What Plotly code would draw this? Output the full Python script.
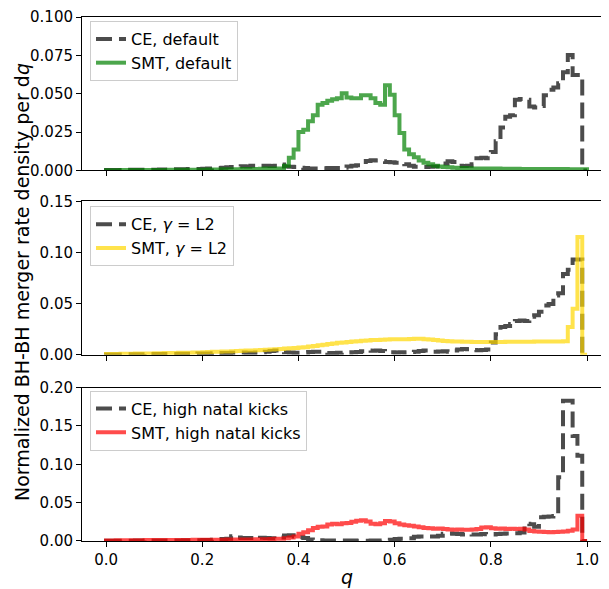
import numpy as np
import plotly.graph_objects as go

# bin edges of q (100 bins of width 0.01)
q_edges = [round(i * 0.01, 2) for i in range(101)]

ce_default = [
    0.0002, 0.0002, 0.0003, 0.0003, 0.0003, 0.0004, 0.0004, 0.0004, 0.0005, 0.0005,
    0.0005, 0.0006, 0.0006, 0.0007, 0.0007, 0.0008, 0.0008, 0.0009, 0.0010, 0.0010,
    0.0011, 0.0012, 0.0013, 0.0015, 0.0017, 0.0020, 0.0022, 0.0025, 0.0027, 0.0026,
    0.0030, 0.0028, 0.0030, 0.0031, 0.0029, 0.0030, 0.0038, 0.0026, 0.0024, 0.0022,
    0.0018, 0.0015, 0.0012, 0.0012, 0.0013, 0.0014, 0.0015, 0.0016, 0.0015, 0.0018,
    0.0025, 0.0030, 0.0034, 0.0040, 0.0062, 0.0066, 0.0064, 0.0060, 0.0055, 0.0054,
    0.0050, 0.0044, 0.0040, 0.0030, 0.0024, 0.0022, 0.0022, 0.0024, 0.0026, 0.0025,
    0.0045, 0.0060, 0.0055, 0.0030, 0.0028, 0.0030, 0.0040, 0.0080, 0.0082, 0.0080,
    0.0120, 0.0190, 0.0280, 0.0350, 0.0360, 0.0460, 0.0465, 0.0460, 0.0417, 0.0410,
    0.0420, 0.0490, 0.0525, 0.0540, 0.0568, 0.0640, 0.0752, 0.0622, 0.0622, 0.0,
]
smt_default = [
    0.0001, 0.0001, 0.0001, 0.0002, 0.0002, 0.0002, 0.0002, 0.0002, 0.0003, 0.0003,
    0.0003, 0.0003, 0.0003, 0.0004, 0.0004, 0.0004, 0.0004, 0.0005, 0.0005, 0.0005,
    0.0005, 0.0006, 0.0006, 0.0006, 0.0007, 0.0007, 0.0008, 0.0008, 0.0009, 0.0009,
    0.0010, 0.0010, 0.0011, 0.0012, 0.0012, 0.0013, 0.0012, 0.0030, 0.0083, 0.0136,
    0.0250, 0.0265, 0.0320, 0.0360, 0.0428, 0.0440, 0.0454, 0.0464, 0.0470, 0.0503,
    0.0475, 0.0470, 0.0470, 0.0490, 0.0490, 0.0470, 0.0440, 0.0428, 0.0555, 0.0493,
    0.0360, 0.0244, 0.0136, 0.0105, 0.0086, 0.0065, 0.0050, 0.0040, 0.0030, 0.0025,
    0.0022, 0.0020, 0.0018, 0.0016, 0.0015, 0.0014, 0.0013, 0.0013, 0.0012, 0.0012,
    0.0012, 0.0012, 0.0011, 0.0011, 0.0011, 0.0011, 0.0010, 0.0010, 0.0010, 0.0010,
    0.0010, 0.0009, 0.0009, 0.0009, 0.0009, 0.0009, 0.0008, 0.0008, 0.0008, 0.0008,
]

ce_l2 = [
    0.0002, 0.0002, 0.0003, 0.0003, 0.0004, 0.0004, 0.0005, 0.0005, 0.0006, 0.0006,
    0.0006, 0.0007, 0.0007, 0.0008, 0.0008, 0.0009, 0.0009, 0.0010, 0.0011, 0.0012,
    0.0012, 0.0013, 0.0014, 0.0015, 0.0016, 0.0017, 0.0018, 0.0020, 0.0022, 0.0020,
    0.0020, 0.0022, 0.0024, 0.0028, 0.0036, 0.0040, 0.0030, 0.0025, 0.0022, 0.0020,
    0.0020, 0.0022, 0.0026, 0.0030, 0.0028, 0.0020, 0.0016, 0.0016, 0.0018, 0.0020,
    0.0022, 0.0024, 0.0026, 0.0034, 0.0040, 0.0038, 0.0042, 0.0036, 0.0030, 0.0025,
    0.0022, 0.0024, 0.0022, 0.0026, 0.0030, 0.0036, 0.0040, 0.0036, 0.0030, 0.0032,
    0.0034, 0.0030, 0.0040, 0.0052, 0.0056, 0.0054, 0.0045, 0.0044, 0.0046, 0.0050,
    0.0120, 0.0200, 0.0270, 0.0280, 0.0300, 0.0330, 0.0335, 0.0330, 0.0370, 0.0385,
    0.0420, 0.0480, 0.0495, 0.0580, 0.0600, 0.0790, 0.0830, 0.0930, 0.0930, 0.0,
]
smt_l2 = [
    0.0006, 0.0007, 0.0008, 0.0009, 0.0009, 0.0010, 0.0011, 0.0011, 0.0012, 0.0013,
    0.0014, 0.0015, 0.0016, 0.0016, 0.0017, 0.0018, 0.0019, 0.0020, 0.0021, 0.0022,
    0.0024, 0.0026, 0.0028, 0.0029, 0.0031, 0.0032, 0.0034, 0.0036, 0.0038, 0.0040,
    0.0042, 0.0044, 0.0046, 0.0049, 0.0051, 0.0054, 0.0057, 0.0060, 0.0063, 0.0066,
    0.0070, 0.0074, 0.0080, 0.0086, 0.0092, 0.0098, 0.0104, 0.0110, 0.0116, 0.0120,
    0.0124, 0.0128, 0.0132, 0.0136, 0.0140, 0.0143, 0.0145, 0.0147, 0.0148, 0.0150,
    0.0150, 0.0151, 0.0152, 0.0154, 0.0156, 0.0155, 0.0152, 0.0148, 0.0143, 0.0138,
    0.0135, 0.0132, 0.0130, 0.0128, 0.0127, 0.0126, 0.0125, 0.0125, 0.0124, 0.0124,
    0.0124, 0.0125, 0.0125, 0.0126, 0.0126, 0.0126, 0.0127, 0.0127, 0.0127, 0.0128,
    0.0128, 0.0128, 0.0129, 0.0129, 0.0130, 0.0132, 0.0270, 0.0450, 0.1150, 0.0,
]

ce_kicks = [
    0.0003, 0.0003, 0.0003, 0.0004, 0.0004, 0.0004, 0.0005, 0.0005, 0.0006, 0.0006,
    0.0006, 0.0007, 0.0007, 0.0008, 0.0008, 0.0008, 0.0009, 0.0009, 0.0010, 0.0010,
    0.0012, 0.0014, 0.0016, 0.0020, 0.0025, 0.0030, 0.0062, 0.0045, 0.0040, 0.0038,
    0.0040, 0.0038, 0.0042, 0.0040, 0.0036, 0.0035, 0.0045, 0.0072, 0.0075, 0.0060,
    0.0050, 0.0040, 0.0020, 0.0015, 0.0010, 0.0008, 0.0006, 0.0006, 0.0005, 0.0005,
    0.0005, 0.0005, 0.0004, 0.0004, 0.0004, 0.0005, 0.0005, 0.0006, 0.0008, 0.0015,
    0.0025, 0.0030, 0.0032, 0.0035, 0.0055, 0.0060, 0.0062, 0.0058, 0.0060, 0.0070,
    0.0095, 0.0098, 0.0096, 0.0090, 0.0085, 0.0088, 0.0086, 0.0084, 0.0090, 0.0088,
    0.0086, 0.0090, 0.0095, 0.0098, 0.0096, 0.0100, 0.0110, 0.0225, 0.0220, 0.0185,
    0.0310, 0.0315, 0.0320, 0.0325, 0.0830, 0.1830, 0.1830, 0.1370, 0.1110, 0.0,
]
smt_kicks = [
    0.0008, 0.0008, 0.0009, 0.0009, 0.0010, 0.0010, 0.0011, 0.0011, 0.0012, 0.0012,
    0.0012, 0.0012, 0.0013, 0.0013, 0.0013, 0.0014, 0.0014, 0.0014, 0.0015, 0.0015,
    0.0015, 0.0016, 0.0016, 0.0017, 0.0017, 0.0018, 0.0018, 0.0019, 0.0019, 0.0020,
    0.0020, 0.0022, 0.0022, 0.0024, 0.0026, 0.0028, 0.0030, 0.0035, 0.0045, 0.0060,
    0.0095, 0.0115, 0.0140, 0.0170, 0.0185, 0.0190, 0.0215, 0.0225, 0.0220, 0.0230,
    0.0235, 0.0250, 0.0265, 0.0270, 0.0255, 0.0225, 0.0220, 0.0230, 0.0260, 0.0255,
    0.0230, 0.0215, 0.0205, 0.0200, 0.0190, 0.0180, 0.0170, 0.0165, 0.0160, 0.0162,
    0.0158, 0.0150, 0.0148, 0.0150, 0.0146, 0.0148, 0.0150, 0.0155, 0.0175, 0.0180,
    0.0165, 0.0160, 0.0162, 0.0158, 0.0160, 0.0158, 0.0160, 0.0150, 0.0130, 0.0125,
    0.0120, 0.0118, 0.0115, 0.0118, 0.0120, 0.0125, 0.0135, 0.0150, 0.0330, 0.0,
]

labels_ce = ["CE, default", "CE, <i>γ</i> = L2", "CE, high natal kicks"]
labels_smt = ["SMT, default", "SMT, <i>γ</i> = L2", "SMT, high natal kicks"]
smt_colors = ["rgba(0,128,0,0.7)", "rgba(255,215,0,0.7)", "rgba(255,0,0,0.7)"]
ce_color = "rgba(0,0,0,0.7)"

x_ticks = [0.0, 0.2, 0.4, 0.6, 0.8, 1.0]
y_ticks = [
    [0.0, 0.025, 0.05, 0.075, 0.1],
    [0.0, 0.05, 0.10, 0.15],
    [0.0, 0.05, 0.10, 0.15, 0.2],
]
y_ranges = [[0, 0.1], [0, 0.15], [0, 0.2]]
y_formats = [".3f", ".2f", ".2f"]

FONT = "DejaVu Sans"
OFF = 8  # default page body margin
W, H = 609 - OFF, 589 - OFF
ML, MR, MT, MB = 82 - OFF, 0, 15 - OFF, 48
PW = W - ML - MR
PH = H - MT - MB


def py(pix):
    # pix: target page pixel (y)
    return (589 - MB - pix) / PH


def px(pix):
    return (pix - 82) / PW


panel_px = [(15, 169), (200, 354), (387, 541)]
legend_top_px = [19, 205, 390]

fig = go.Figure()


def step_xy(values):
    xs = [q_edges[0]] + list(q_edges)
    ys = [0.0] + list(values) + [0.0]
    return xs, ys


series = [(ce_default, smt_default), (ce_l2, smt_l2), (ce_kicks, smt_kicks)]
for i, (ce, smt) in enumerate(series):
    ax = "" if i == 0 else str(i + 1)
    leg = "legend" if i == 0 else f"legend{i + 1}"
    xs, ys = step_xy(ce)
    fig.add_trace(go.Scatter(
        x=xs, y=ys, mode="lines", line=dict(shape="hv", color=ce_color, width=4, dash="16px,7px"),
        name=labels_ce[i], xaxis="x" + ax, yaxis="y" + ax, legend=leg))
    xs, ys = step_xy(smt)
    fig.add_trace(go.Scatter(
        x=xs, y=ys, mode="lines", line=dict(shape="hv", color=smt_colors[i], width=4),
        name=labels_smt[i], xaxis="x" + ax, yaxis="y" + ax, legend=leg))

x_range = [-0.05, -0.05 + PW / 481.0]
layout = dict(
    width=W, height=H,
    margin=dict(l=ML, r=MR, t=MT, b=MB),
    paper_bgcolor="white", plot_bgcolor="white",
    font=dict(family=FONT, size=15, color="black"),
    showlegend=True,
)
for i in range(3):
    ax = "" if i == 0 else str(i + 1)
    top, bot = panel_px[i]
    layout["xaxis" + ax] = dict(
        domain=[0, 1], range=x_range, anchor="y" + ax,
        tickvals=x_ticks, tickformat=".1f", showticklabels=(i == 2),
        ticks="outside", ticklen=5, tickwidth=1, tickcolor="black",
        showline=True, linecolor="black", linewidth=1, mirror=True,
        showgrid=False, zeroline=False,
        tickfont=dict(family=FONT, size=15, color="black"),
    )
    layout["yaxis" + ax] = dict(
        domain=[py(bot), py(top)], range=y_ranges[i], anchor="x" + ax,
        tickvals=y_ticks[i], tickformat=y_formats[i],
        ticks="outside", ticklen=5, tickwidth=1, tickcolor="black",
        showline=True, linecolor="black", linewidth=1,
        showgrid=False, zeroline=False,
        tickfont=dict(family=FONT, size=15, color="black"),
    )
    leg = "legend" if i == 0 else f"legend{i + 1}"
    layout[leg] = dict(
        x=px(90), y=py(legend_top_px[i]), xanchor="left", yanchor="top",
        bgcolor="rgba(255,255,255,0.8)", bordercolor="#cccccc", borderwidth=1,
        font=dict(family=FONT, size=16, color="black"), tracegroupgap=0,
    )

fig.update_layout(**layout)
fig.add_annotation(
    text="Normalized BH-BH merger rate density per d<i>q</i>", textangle=-90,
    xref="paper", yref="paper", x=px(22), y=py(281), xanchor="center", yanchor="middle",
    showarrow=False, font=dict(family=FONT, size=19, color="black"),
)
fig.add_annotation(
    text="<i>q</i>", xref="paper", yref="paper", x=px(347), y=py(577),
    xanchor="center", yanchor="middle", showarrow=False,
    font=dict(family=FONT, size=19, color="black"),
)

fig.write_html("out.html")
